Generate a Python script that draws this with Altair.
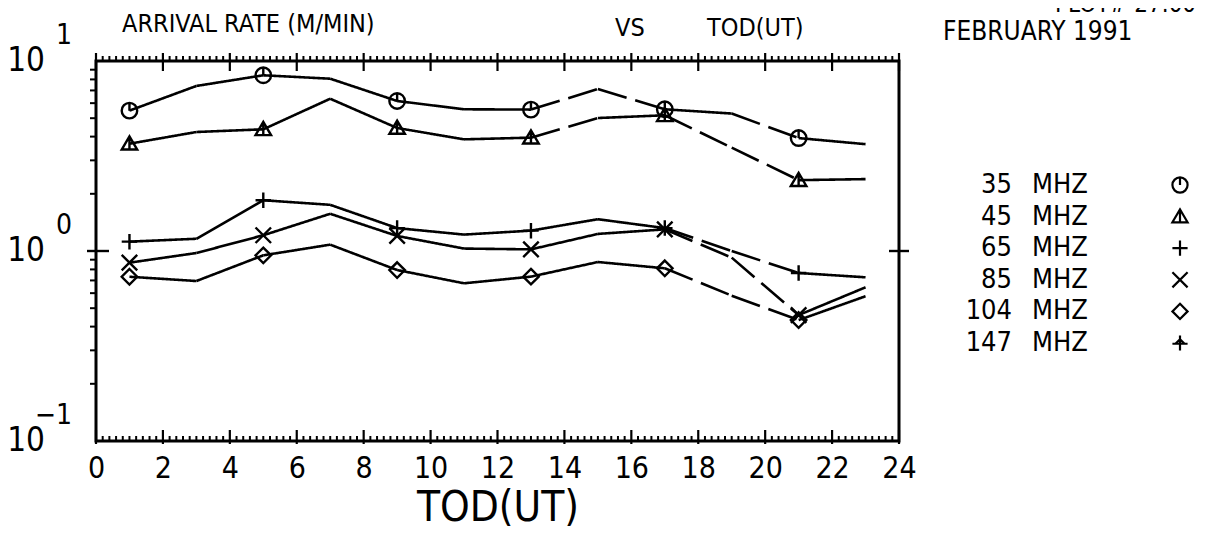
import altair as alt
import pandas as pd

FONT = "DejaVu Sans Condensed, Liberation Sans, sans-serif"

# ---------------- data ----------------
hours = [1, 3, 5, 7, 9, 11, 13, 15, 17, 19, 21, 23]
marker_hours = [1, 5, 9, 13, 17, 21]
series = ["35 MHZ", "45 MHZ", "65 MHZ", "85 MHZ", "104 MHZ", "147 MHZ"]

rate_35 = [5.48, 7.39, 8.41, 8.07, 6.16, 5.57, 5.55, 7.12, 5.57, 5.29, 3.93, 3.65]
rate_45 = [3.67, 4.23, 4.37, 6.33, 4.44, 3.87, 3.95, 5.01, 5.18, 3.50, 2.36, 2.39]
rate_65 = [1.12, 1.16, 1.85, 1.75, 1.32, 1.22, 1.28, 1.47, 1.32, 1.00, 0.766, 0.727]
rate_85 = [0.868, 0.976, 1.21, 1.57, 1.20, 1.03, 1.02, 1.23, 1.30, 0.923, 0.46, 0.644]
rate_104 = [0.732, 0.695, 0.949, 1.08, 0.794, 0.676, 0.733, 0.875, 0.811, 0.582, 0.433, 0.578]

# line style of each of the 11 segments (S solid, D dashed)
dash_35 = ["S", "S", "S", "S", "S", "S", "D", "D", "S", "D", "S"]
dash_45 = ["S", "S", "S", "S", "S", "S", "D", "S", "D", "D", "S"]
dash_65 = ["S", "S", "S", "S", "S", "S", "S", "S", "D", "D", "S"]
dash_85 = ["S", "S", "S", "S", "S", "S", "S", "S", "D", "D", "S"]
dash_104 = ["S", "S", "S", "S", "S", "S", "S", "S", "D", "D", "S"]

legend_freqs = ["35", "45", "65", "85", "104", "147"]
legend_unit = "MHZ"

x_labels = list(range(0, 25, 2))
x_minor = [h / 5 for h in range(0, 121) if h % 10 != 0]
y_minor = [0.2, 0.3, 0.4, 0.5, 0.6, 0.7, 0.8, 0.9, 2, 3, 4, 5, 6, 7, 8, 9]
y_major = [1]
y_label_vals = [10, 1, 0.1]
y_label_exp = ["1", "0", "\u22121"]

shape_paths = [
    "M-1,0A1,1 0 1,0 1,0A1,1 0 1,0 -1,0M0,0L0,-1",          # circle w/ stem
    "M-1,0.75L0,-0.95L1,0.75Z M0,-0.95L0,0.75",              # triangle
    "M-1,0L1,0M0,-1L0,1",                                     # plus
    "M-1,-1L1,1M-1,1L1,-1",                                   # x
    "M0,-1L1,0L0,1L-1,0Z",                                    # diamond
    "M-1,0.1L1,0.1M0,-1L0,1M-0.6,0.1L0,-0.5L0.6,0.1",         # plus w/ tri
]

W, H = 803, 380

# ---------------- tables ----------------
all_vals = {"35 MHZ": rate_35, "45 MHZ": rate_45, "65 MHZ": rate_65,
            "85 MHZ": rate_85, "104 MHZ": rate_104}
all_dash = {"35 MHZ": dash_35, "45 MHZ": dash_45, "65 MHZ": dash_65,
            "85 MHZ": dash_85, "104 MHZ": dash_104}

seg_rows = []
pt_rows = []
for s, vals in all_vals.items():
    for i in range(len(hours) - 1):
        for j in (i, i + 1):
            seg_rows.append({"series": s, "seg": f"{s}-{i}", "hour": hours[j],
                             "v": vals[j], "dash": all_dash[s][i]})
    for h, v in zip(hours, vals):
        if h in marker_hours:
            pt_rows.append({"series": s, "hour": h, "v": v})
seg_df = pd.DataFrame(seg_rows)
pt_df = pd.DataFrame(pt_rows)

XS = alt.Scale(domain=[0, 24], nice=False, zero=False)
YS = alt.Scale(type="log", domain=[0.1, 10], nice=False)
XA = alt.Axis(values=x_labels, labelFontSize=30, labelFont=FONT,
              labelColor="black", domain=False, ticks=False, grid=False,
              labelPadding=12, title="TOD(UT)", titleFont=FONT,
              titleFontSize=42, titleFontWeight="normal", titleColor="black",
              titlePadding=4, labelFlush=False, orient="bottom")
shape_scale = alt.Scale(domain=series, range=shape_paths)


def X():
    return alt.X("hour:Q", scale=XS, axis=XA)


def Y():
    return alt.Y("v:Q", scale=YS, axis=None)


lines = alt.Chart(seg_df).mark_line(color="black", strokeWidth=2.6).encode(
    x=X(), y=Y(),
    detail="seg:N",
    strokeDash=alt.StrokeDash("dash:N", scale=alt.Scale(
        domain=["S", "D"], range=[[1, 0], [30, 9]]), legend=None),
)

points = alt.Chart(pt_df).mark_point(filled=False, color="black",
                                     strokeWidth=2.4, size=240, opacity=1).encode(
    x=X(), y=Y(),
    shape=alt.Shape("series:N", scale=shape_scale, legend=None),
)

# ---------------- ticks ----------------
xmaj_df = pd.DataFrame({"hour": x_labels})
xmin_df = pd.DataFrame({"hour": x_minor})
ymin_df = pd.DataFrame({"v": y_minor})
ymaj_df = pd.DataFrame({"v": y_major})

top_major = alt.Chart(xmaj_df).mark_rule(color="black", strokeWidth=2.2).encode(
    x=X(), y=alt.value(-8), y2=alt.value(10))
top_minor = alt.Chart(xmin_df).mark_rule(color="black", strokeWidth=2).encode(
    x=X(), y=alt.value(-5), y2=alt.value(0))
bot_major = alt.Chart(xmaj_df).mark_rule(color="black", strokeWidth=2.2).encode(
    x=X(), y=alt.value(H - 11), y2=alt.value(H + 3))
bot_minor = alt.Chart(xmin_df).mark_rule(color="black", strokeWidth=2).encode(
    x=X(), y=alt.value(H - 5), y2=alt.value(H))
left_minor = alt.Chart(ymin_df).mark_rule(color="black", strokeWidth=2).encode(
    y=Y(), x=alt.value(-6), x2=alt.value(0))
left_major = alt.Chart(ymaj_df).mark_rule(color="black", strokeWidth=2.4).encode(
    y=Y(), x=alt.value(-9), x2=alt.value(13))
right_major = alt.Chart(ymaj_df).mark_rule(color="black", strokeWidth=2.4).encode(
    y=Y(), x=alt.value(W - 10), x2=alt.value(W + 10))

# ---------------- y labels (10 with exponent) ----------------
ylab_df = pd.DataFrame({"v": y_label_vals, "exp": y_label_exp, "base": ["10"] * 3})
ylab_base = alt.Chart(ylab_df).mark_text(
    align="right", baseline="middle", fontSize=33, font=FONT, color="black"
).encode(y=Y(), x=alt.value(-51), text="base:N")
ylab_exp = alt.Chart(ylab_df).mark_text(
    align="right", baseline="middle", fontSize=28, font=FONT, color="black", dy=-25
).encode(y=Y(), x=alt.value(-24), text="exp:N")


def label(txt, x, y, size=25, baseline="middle", align="left"):
    return alt.Chart(pd.DataFrame({"t": [txt]})).mark_text(
        align=align, baseline=baseline, fontSize=size, font=FONT, color="black"
    ).encode(x=alt.value(x), y=alt.value(y), text="t:N")


titles = [
    label("ARRIVAL RATE (M/MIN)", 26, -37),
    label("VS", 519, -33),
    label("TOD(UT)", 611, -33),
    label("FEBRUARY 1991", 847, -29, size=26),
    label("PLOT#  27.00", 959, -49, size=24, baseline="alphabetic"),
]

# ---------------- legend ----------------
leg_df = pd.DataFrame({"row": list(range(len(series))), "freq": legend_freqs,
                       "unit": [legend_unit] * len(series), "series": series})
LS = alt.Scale(domain=[0, 5], range=[124, 282])
leg_num = alt.Chart(leg_df).mark_text(
    align="right", baseline="middle", fontSize=27, font=FONT, color="black"
).encode(y=alt.Y("row:Q", scale=LS, axis=None), x=alt.value(916), text="freq:N")
leg_unit = alt.Chart(leg_df).mark_text(
    align="left", baseline="middle", fontSize=27, font=FONT, color="black"
).encode(y=alt.Y("row:Q", scale=LS, axis=None), x=alt.value(936), text="unit:N")
leg_sym = alt.Chart(leg_df).mark_point(
    filled=False, color="black", strokeWidth=2.2, size=230, opacity=1
).encode(y=alt.Y("row:Q", scale=LS, axis=None), x=alt.value(1084),
         shape=alt.Shape("series:N", scale=shape_scale, legend=None))

main = alt.layer(lines, points, top_major, top_minor, bot_major, bot_minor,
                 left_minor, left_major, right_major, ylab_base, ylab_exp,
                 *titles)
legend = alt.layer(leg_num, leg_unit, leg_sym)

chart = alt.layer(main, legend).resolve_scale(y="independent").properties(
    width=W, height=H,
    autosize=alt.AutoSizeParams(type="none"),
    padding={"left": 88, "top": 53, "right": 318, "bottom": 95},
    background="white",
).configure_view(stroke="black", strokeWidth=3)

chart.save("out.html", embed_options={"renderer": "svg", "actions": False})
